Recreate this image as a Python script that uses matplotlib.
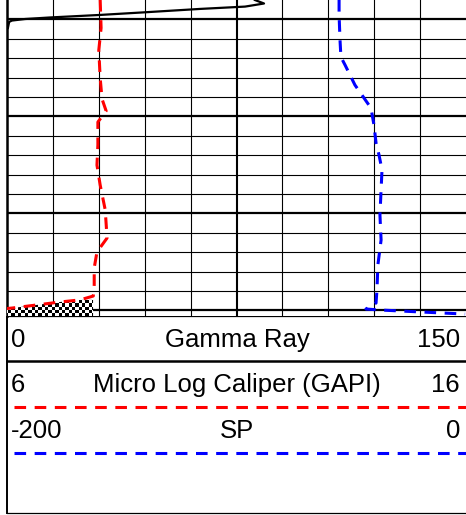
import numpy as np
import matplotlib.pyplot as plt

plt.rcParams['font.family'] = ['Liberation Sans', 'DejaVu Sans']

# Gamma Ray (API)
gr_depth = [4.00, 4.18, 4.34, 4.46, 4.64, 4.77, 4.90, 4.98, 5.06, 5.13, 5.44]
gr_value = [81.0, 84.0, 77.8, 63.1, 44.4, 30.4, 14.1, 5.9, 1.6, 0.7, 0.3]

# Micro log caliper
cal_depth = [4.00, 5.44, 6.58, 8.02, 9.10, 9.72, 10.29, 11.47, 12.51, 13.54,
             14.82, 16.27, 16.99, 17.81, 18.69, 19.26, 19.46, 19.57, 19.72,
             19.88, 19.93, 20.10, 20.40]
cal_value = [8.03, 8.05, 8.00, 8.03, 8.07, 8.16, 7.98, 7.98, 7.96, 8.03,
             8.14, 8.18, 7.96, 7.90, 7.90, 7.88, 7.59, 7.15, 6.65,
             6.11, 5.89, 5.80, 5.80]
bit_size = 7.875

# SP (mV)
sp_depth = [4.00, 4.77, 6.06, 6.94, 7.35, 8.38, 9.57, 10.44, 11.37, 11.99,
            12.76, 13.79, 15.08, 16.37, 17.66, 18.95, 19.62, 19.93, 19.98,
            20.08, 20.19]
sp_value = [-55.3, -55.3, -54.9, -54.5, -52.7, -48.4, -41.4, -40.1, -39.2, -37.9,
            -36.6, -37.0, -37.5, -37.0, -38.4, -38.8, -39.2, -43.6, -37.5,
            -20.1, -0.4]

top_depth, bottom_depth = 4.0, 20.29
gr_range = (0, 150)
cal_range = (6, 16)
sp_range = (-200, 0)

W, H = 466, 515
fig = plt.figure(figsize=(W / 100, H / 100), dpi=100)

# track
ax = fig.add_axes([7 / W, 1 - 316 / H, 459 / W, 316 / H])
ax.set_xlim(*gr_range)
ax.set_ylim(bottom_depth, top_depth)
for v in np.arange(15, 150, 15):
    ax.axvline(v, color='black', lw=1.5 if v == 75 else 0.8, zorder=1)
for d in range(5, 21):
    ax.axhline(d, color='black', lw=1.6 if d % 5 == 0 else 0.8, zorder=1)
ax.set_xticks([])
ax.set_yticks([])
for s in ['top', 'right', 'bottom']:
    ax.spines[s].set_visible(False)
ax.spines['left'].set_linewidth(1.8)

ax.plot(gr_value, gr_depth, color='black', lw=1.6, zorder=3, clip_on=True)

ax_cal = ax.twiny()
ax_cal.set_xlim(*cal_range)
ax_cal.set_ylim(bottom_depth, top_depth)
ax_cal.axis('off')
cal = np.array(cal_value)
fill = ax_cal.fill_betweenx(cal_depth, cal, bit_size, where=cal < bit_size,
                            facecolor='none', edgecolor='none')
checker = (np.indices((7, 30)).sum(axis=0) % 2).astype(float)
img = ax_cal.imshow(checker, cmap='gray', extent=[5.8, 8.0, bottom_depth, 19.2],
                    aspect='auto', interpolation='nearest', zorder=2)
img.set_clip_path(fill.get_paths()[0], transform=ax_cal.transData)
ax_cal.plot(cal_value, cal_depth, color='red', lw=2.2, ls=(0, (3.8, 2.8)), zorder=4)
ax_cal.set_xlim(*cal_range)
ax_cal.set_ylim(bottom_depth, top_depth)

ax_sp = ax.twiny()
ax_sp.set_xlim(*sp_range)
ax_sp.set_ylim(bottom_depth, top_depth)
ax_sp.axis('off')
ax_sp.plot(sp_value, sp_depth, color='blue', lw=2.2, ls=(0, (3.8, 2.8)), zorder=4)

# header
hd = fig.add_axes([0, 0, 1, 1 - 316 / H])
hd.set_xlim(0, W)
hd.set_ylim(H, 316)
hd.axis('off')
hd.plot([7, W], [316.5, 316.5], color='black', lw=0.9)
hd.plot([7, W], [361, 361], color='black', lw=1.8)
hd.plot([7, W], [513, 513], color='black', lw=0.9)
hd.plot([7, 7], [316, 513], color='black', lw=1.4)

fs = 18.5
hd.text(11, 340, str(gr_range[0]), fontsize=fs, va='center', ha='left')
hd.text(237, 340, 'Gamma Ray', fontsize=fs, va='center', ha='center')
hd.text(460, 340, str(gr_range[1]), fontsize=fs, va='center', ha='right')

hd.text(11, 385, str(cal_range[0]), fontsize=fs, va='center', ha='left')
hd.text(237, 385, 'Micro Log Caliper (GAPI)', fontsize=fs, va='center', ha='center')
hd.text(460, 385, str(cal_range[1]), fontsize=fs, va='center', ha='right')
hd.plot([14, W], [407, 407], color='red', lw=2.2, ls=(0, (3.8, 2.8)))

hd.text(11, 431, str(sp_range[0]), fontsize=fs, va='center', ha='left')
hd.text(237, 431, 'SP', fontsize=fs, va='center', ha='center')
hd.text(460, 431, str(sp_range[1]), fontsize=fs, va='center', ha='right')
hd.plot([14, W], [453, 453], color='blue', lw=2.2, ls=(0, (3.8, 2.8)))

fig.savefig('out.png', dpi=100)
